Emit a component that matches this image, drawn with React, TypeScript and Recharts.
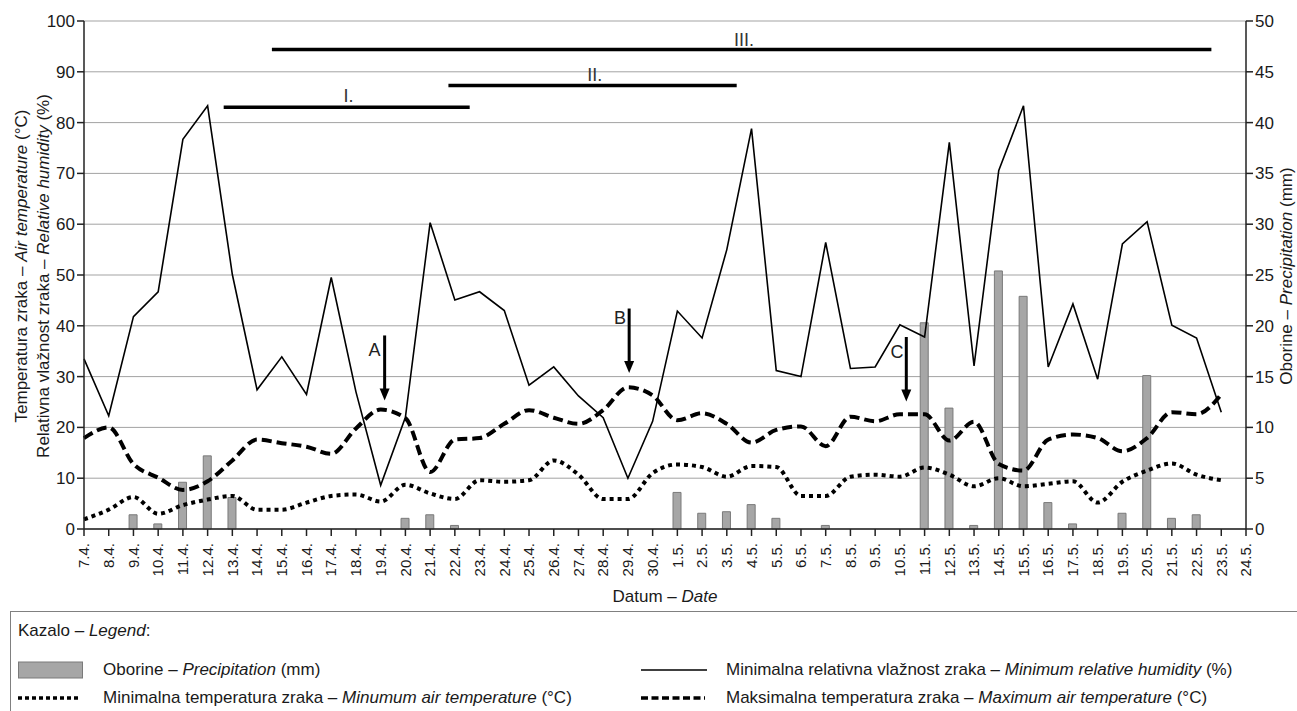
import {
  ComposedChart,
  Bar,
  Line,
  XAxis,
  YAxis,
  CartesianGrid,
  ReferenceLine,
  ReferenceDot,
} from 'recharts';

// dates 7.4. – 24.5.
const dates = [
  '7.4.', '8.4.', '9.4.', '10.4.', '11.4.', '12.4.', '13.4.', '14.4.', '15.4.', '16.4.', '17.4.', '18.4.',
  '19.4.', '20.4.', '21.4.', '22.4.', '23.4.', '24.4.', '25.4.', '26.4.', '27.4.', '28.4.', '29.4.', '30.4.',
  '1.5.', '2.5.', '3.5.', '4.5.', '5.5.', '6.5.', '7.5.', '8.5.', '9.5.', '10.5.', '11.5.', '12.5.',
  '13.5.', '14.5.', '15.5.', '16.5.', '17.5.', '18.5.', '19.5.', '20.5.', '21.5.', '22.5.', '23.5.', '24.5.',
];

// Oborine (mm), right axis
const precipitation = [
  null, null, 1.4, 0.5, 4.6, 7.2, 3.1, null, null, null, null, null,
  null, 1.05, 1.4, 0.35, null, null, null, null, null, null, null, null,
  3.6, 1.55, 1.7, 2.4, 1.05, null, 0.35, null, null, null, 20.3, 11.9,
  0.35, 25.4, 22.9, 2.6, 0.5, null, 1.55, 15.1, 1.05, 1.4, null, null,
];

// Minimalna relativna vlažnost (%)
const minHumidity = [
  33.5, 22.3, 41.8, 46.7, 76.7, 83.3, 50.1, 27.4, 33.9, 26.5, 49.5, 27,
  8.6, 22, 60.3, 45.1, 46.7, 43.0, 28.3, 31.9, 26.2, 21.9, 10.0, 21.2,
  42.9, 37.6, 55.0, 78.8, 31.2, 30.0, 56.4, 31.6, 31.9, 40.2, 37.8, 76.1,
  32.1, 70.6, 83.3, 31.9, 44.3, 29.5, 56.1, 60.5, 40.1, 37.6, 23.0, null,
];

// Maksimalna temperatura (°C)
const maxTemp = [
  17.9, 20.0, 12.8, 10.1, 7.7, 9.4, 13.5, 17.6, 16.9, 16.2, 14.8, 19.8,
  23.5, 21.8, 11.2, 17.6, 17.9, 20.7, 23.4, 21.9, 20.7, 23.4, 27.9, 26.3,
  21.4, 22.8, 20.7, 17.0, 19.5, 20.2, 16.3, 22.1, 21.2, 22.6, 22.6, 17.4,
  21.1, 12.8, 11.5, 17.6, 18.6, 17.9, 15.3, 17.9, 23.0, 22.6, 26.5, null,
];

// Minimalna temperatura (°C)
const minTemp = [
  1.9, 3.8, 6.3, 3.0, 4.7, 5.8, 6.5, 3.8, 3.8, 5.2, 6.5, 6.8,
  5.4, 8.7, 7.0, 5.9, 9.6, 9.3, 9.6, 13.5, 10.7, 5.9, 5.9, 11.0,
  12.7, 12.2, 10.3, 12.4, 12.2, 6.5, 6.5, 10.3, 10.7, 10.3, 12.1, 10.7,
  8.4, 10.0, 8.4, 8.9, 9.4, 5.2, 9.3, 11.5, 12.9, 10.7, 9.6, null,
];

const leftTicks = [0, 10, 20, 30, 40, 50, 60, 70, 80, 90, 100];
const rightTicks = [0, 5, 10, 15, 20, 25, 30, 35, 40, 45, 50];

// periods I–III (x in day index, y on left axis)
const periods = [
  { name: 'I.', from: 5.65, to: 15.6, y: 83.0, labelX: 10.7, labelY: 85.3 },
  { name: 'II.', from: 14.74, to: 26.4, y: 87.3, labelX: 20.66, labelY: 89.5 },
  { name: 'III.', from: 7.6, to: 45.6, y: 94.4, labelX: 26.7, labelY: 96.4 },
];

// arrows A–C
const arrows = [
  { name: 'A', x: 12.16, top: 38.1, tip: 25.3, labelX: 11.75, labelY: 35.3 },
  { name: 'B', x: 22.05, top: 43.4, tip: 30.7, labelX: 21.68, labelY: 41.6 },
  { name: 'C', x: 33.26, top: 37.8, tip: 25.1, labelX: 32.88, labelY: 35.0 },
];

const rows = dates.map((d, i) => ({
  i,
  date: d,
  oborine: precipitation[i],
  vlaga: minHumidity[i],
  tmax: maxTemp[i],
  tmin: minTemp[i],
}));

const FONT = '"Liberation Sans", Arial, sans-serif';
const INK = '#1a1a1a';

const XTick = (props: any) => {
  const { x, payload } = props;
  return (
    <text
      transform={`translate(${x},543) rotate(-90)`}
      textAnchor="end"
      dy="0.35em"
      fontFamily={FONT}
      fontSize={15}
      fill={INK}
    >
      {dates[payload.value]}
    </text>
  );
};

const PeriodShape = (p: any) => (
  <line x1={p.x1} y1={p.y1} x2={p.x2} y2={p.y2} stroke="#000" strokeWidth={3.5} />
);

const ArrowShape = (p: any) => {
  const { x1, y1, x2, y2 } = p;
  return (
    <g>
      <line x1={x1} y1={y1} x2={x2} y2={y2 - 10} stroke="#000" strokeWidth={3} />
      <polygon points={`${x2 - 5},${y2 - 12} ${x2 + 5},${y2 - 12} ${x2},${y2}`} fill="#000" />
    </g>
  );
};

const LeftAxisLabel = () => (
  <g fontFamily={FONT} fontSize={17} fill={INK}>
    <text transform="translate(21,266) rotate(-90)" textAnchor="middle" dominantBaseline="central">
      Temperatura zraka – <tspan fontStyle="italic">Air temperature</tspan> (°C)
    </text>
    <text transform="translate(43,276) rotate(-90)" textAnchor="middle" dominantBaseline="central">
      Relativna vlažnost zraka – <tspan fontStyle="italic">Relative humidity</tspan> (%)
    </text>
  </g>
);

const RightAxisLabel = () => (
  <text
    transform="translate(1286,276) rotate(-90)"
    textAnchor="middle"
    dominantBaseline="central"
    fontFamily={FONT}
    fontSize={17}
    fill={INK}
  >
    Oborine – <tspan fontStyle="italic">Precipitation</tspan> (mm)
  </text>
);

const XAxisLabel = () => (
  <text x={665} y={602} textAnchor="middle" fontFamily={FONT} fontSize={17} fill={INK}>
    Datum  – <tspan fontStyle="italic">Date</tspan>
  </text>
);

const legendText: React.CSSProperties = {
  position: 'absolute',
  fontSize: 17,
  lineHeight: '20px',
  color: INK,
  whiteSpace: 'nowrap',
};

export default function App() {
  return (
    <div
      style={{
        position: 'absolute',
        left: 0,
        top: 0,
        width: 1297,
        height: 711,
        overflow: 'hidden',
        background: '#fff',
        fontFamily: FONT,
      }}
    >
      <ComposedChart width={1297} height={611} data={rows} margin={{ top: 21, right: 0, bottom: 0, left: 0 }}>
        <CartesianGrid yAxisId="left" horizontal vertical={false} stroke="#a3a3a3" strokeWidth={1} />
        <XAxis
          dataKey="i"
          type="number"
          domain={[0, 47]}
          ticks={dates.map((_, i) => i)}
          interval={0}
          height={82}
          tickSize={7}
          tick={<XTick />}
          axisLine={{ stroke: '#222', strokeWidth: 1.5 }}
          tickLine={{ stroke: '#222', strokeWidth: 1.5 }}
          label={<XAxisLabel />}
        />
        <YAxis
          yAxisId="left"
          width={84}
          domain={[0, 100]}
          ticks={leftTicks}
          interval={0}
          tickSize={7}
          tickMargin={2}
          tick={{ fontFamily: FONT, fontSize: 17, fill: INK }}
          axisLine={{ stroke: '#222', strokeWidth: 1.5 }}
          tickLine={{ stroke: '#222', strokeWidth: 1.5 }}
          label={<LeftAxisLabel />}
        />
        <YAxis
          yAxisId="right"
          orientation="right"
          width={51}
          domain={[0, 50]}
          ticks={rightTicks}
          interval={0}
          tickSize={7}
          tickMargin={2}
          tick={{ fontFamily: FONT, fontSize: 17, fill: INK }}
          axisLine={{ stroke: '#222', strokeWidth: 1.5 }}
          tickLine={{ stroke: '#222', strokeWidth: 1.5 }}
          label={<RightAxisLabel />}
        />
        <Bar
          yAxisId="right"
          dataKey="oborine"
          barSize={8}
          fill="#a6a6a6"
          stroke="#7a7a7a"
          strokeWidth={1}
          isAnimationActive={false}
        />
        <Line
          yAxisId="left"
          dataKey="vlaga"
          type="linear"
          stroke="#000"
          strokeWidth={1.6}
          dot={false}
          activeDot={false}
          isAnimationActive={false}
        />
        <Line
          yAxisId="left"
          dataKey="tmax"
          type="monotone"
          stroke="#000"
          strokeWidth={4}
          strokeDasharray="10 5"
          dot={false}
          activeDot={false}
          isAnimationActive={false}
        />
        <Line
          yAxisId="left"
          dataKey="tmin"
          type="monotone"
          stroke="#000"
          strokeWidth={4}
          strokeDasharray="4 4"
          dot={false}
          activeDot={false}
          isAnimationActive={false}
        />
        {periods.map((p) => (
          <ReferenceLine
            key={p.name}
            yAxisId="left"
            segment={[{ x: p.from, y: p.y }, { x: p.to, y: p.y }]}
            shape={PeriodShape}
          />
        ))}
        {periods.map((p) => (
          <ReferenceDot
            key={'l' + p.name}
            yAxisId="left"
            x={p.labelX}
            y={p.labelY}
            r={0}
            fill="none"
            stroke="none"
            label={{ value: p.name, position: 'center', fill: '#333', fontSize: 18, fontFamily: FONT }}
          />
        ))}
        {arrows.map((a) => (
          <ReferenceLine
            key={a.name}
            yAxisId="left"
            segment={[{ x: a.x, y: a.top }, { x: a.x, y: a.tip }]}
            shape={ArrowShape}
          />
        ))}
        {arrows.map((a) => (
          <ReferenceDot
            key={'l' + a.name}
            yAxisId="left"
            x={a.labelX}
            y={a.labelY}
            r={0}
            fill="none"
            stroke="none"
            label={{ value: a.name, position: 'center', fill: '#222', fontSize: 18, fontFamily: FONT }}
          />
        ))}
      </ComposedChart>

      <div
        style={{
          position: 'absolute',
          left: 10,
          top: 611,
          width: 1310,
          height: 130,
          border: '1px solid #808080',
          boxSizing: 'border-box',
        }}
      />
      <div style={{ ...legendText, left: 18, top: 621 }}>
        Kazalo – <i>Legend</i>:
      </div>

      <svg style={{ position: 'absolute', left: 18, top: 660 }} width={66} height={20}>
        <rect x={0.5} y={2} width={64} height={16} fill="#a6a6a6" stroke="#7a7a7a" />
      </svg>
      <div style={{ ...legendText, left: 103, top: 660 }}>
        Oborine – <i>Precipitation</i> (mm)
      </div>

      <svg style={{ position: 'absolute', left: 18, top: 688 }} width={66} height={20}>
        <line x1={0} y1={10} x2={63} y2={10} stroke="#000" strokeWidth={3.5} strokeDasharray="4 3" />
      </svg>
      <div style={{ ...legendText, left: 103, top: 688 }}>
        Minimalna temperatura zraka – <i>Minumum air temperature</i> (°C)
      </div>

      <svg style={{ position: 'absolute', left: 641, top: 660 }} width={68} height={20}>
        <line x1={0} y1={10} x2={66} y2={10} stroke="#000" strokeWidth={1.6} />
      </svg>
      <div style={{ ...legendText, left: 726, top: 660 }}>
        Minimalna relativna vlažnost zraka – <i>Minimum relative humidity</i> (%)
      </div>

      <svg style={{ position: 'absolute', left: 641, top: 688 }} width={68} height={20}>
        <line x1={0} y1={10} x2={64} y2={10} stroke="#000" strokeWidth={3.5} strokeDasharray="7 3.5" />
      </svg>
      <div style={{ ...legendText, left: 726, top: 688 }}>
        Maksimalna temperatura zraka – <i>Maximum air temperature</i> (°C)
      </div>
    </div>
  );
}
